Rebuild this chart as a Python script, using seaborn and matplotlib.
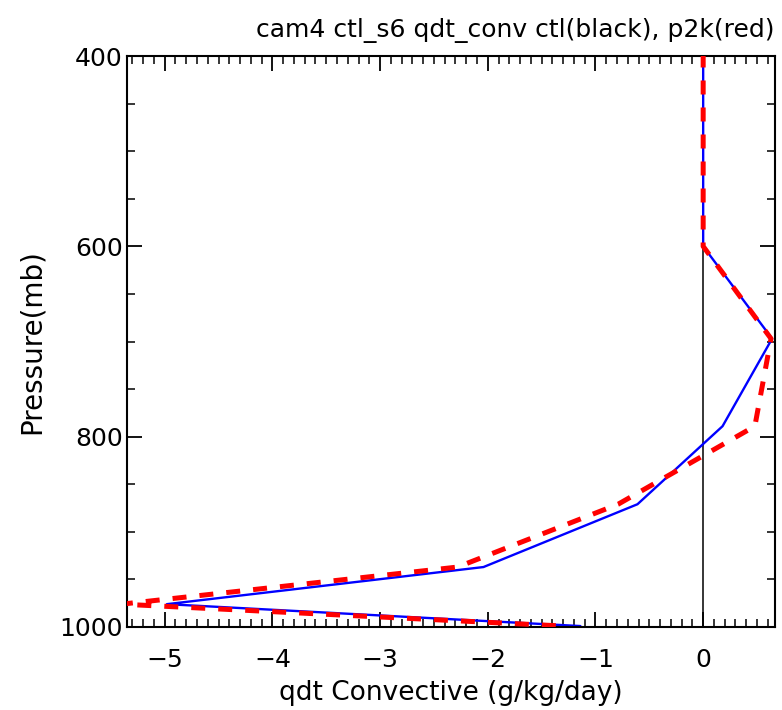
import matplotlib
matplotlib.use("Agg")
import matplotlib.pyplot as plt
import seaborn as sns
import numpy as np
import pandas as pd
from matplotlib.ticker import MultipleLocator

# Data
pressure = [369, 434, 511, 600, 697, 789, 871, 937, 976, 999]
ctl_qdt = [0.0, 0.0, 0.0, 0.0, 0.64, 0.18, -0.61, -2.04, -4.98, -1.14]
p2k_qdt = [0.0, 0.0, 0.0, 0.0, 0.63, 0.48, -0.79, -2.28, -5.40, -1.30]

title = "cam4 ctl_s6 qdt_conv ctl(black), p2k(red)"
xlabel = "qdt Convective (g/kg/day)"
ylabel = "Pressure(mb)"
xticks = [-5, -4, -3, -2, -1, 0]
yticks = [400, 600, 800, 1000]

sns.set_theme(style="white")
plt.rcParams['font.family'] = ['DejaVu Sans']
plt.rcParams['text.color'] = 'black'
plt.rcParams['axes.labelcolor'] = 'black'
plt.rcParams['xtick.color'] = 'black'
plt.rcParams['ytick.color'] = 'black'

df_ctl = pd.DataFrame({"qdt": ctl_qdt, "p": pressure})
df_p2k = pd.DataFrame({"qdt": p2k_qdt, "p": pressure})

fig = plt.figure(figsize=(7.82, 7.10), dpi=100)
ax = fig.add_axes([127/782, 1 - 627/710, (775-127)/782, (627-56)/710])

ax.axvline(0, color="black", lw=1.1, zorder=1)
sns.lineplot(data=df_ctl, x="qdt", y="p", sort=False, estimator=None,
             color="blue", lw=1.7, ax=ax, zorder=2)
sns.lineplot(data=df_p2k, x="qdt", y="p", sort=False, estimator=None,
             color="red", lw=3.6, ax=ax, zorder=3, dashes=False)
ax.lines[-1].set_dashes([2.8, 2.6])

ax.set_xlim(-5.35, 0.667)
ax.set_ylim(1000, 400)
ax.set_xticks(xticks)
ax.set_xticklabels([f"\u2212{abs(t)}" if t < 0 else str(t) for t in xticks])
ax.set_yticks(yticks)
ax.xaxis.set_minor_locator(MultipleLocator(0.1))
ax.yaxis.set_minor_locator(MultipleLocator(50))
ax.tick_params(which="major", direction="in", length=11, width=1.3, color="black",
               top=True, right=True, bottom=True, left=True, labelsize=18)
ax.tick_params(axis="x", which="major", pad=15)
ax.tick_params(axis="y", which="major", pad=3)
ax.tick_params(which="minor", direction="in", length=6, width=1.1, color="black",
               top=True, right=True, bottom=True, left=True)
for s in ax.spines.values():
    s.set_color("black")
    s.set_linewidth(1.5)

ax.set_xlabel(xlabel, fontsize=19, labelpad=6, color="black")
ax.set_ylabel(ylabel, fontsize=20, labelpad=10, color="black")
ax.set_title(title, fontsize=18, pad=14, loc="right", color="black")

fig.savefig("out.png", dpi=100)
